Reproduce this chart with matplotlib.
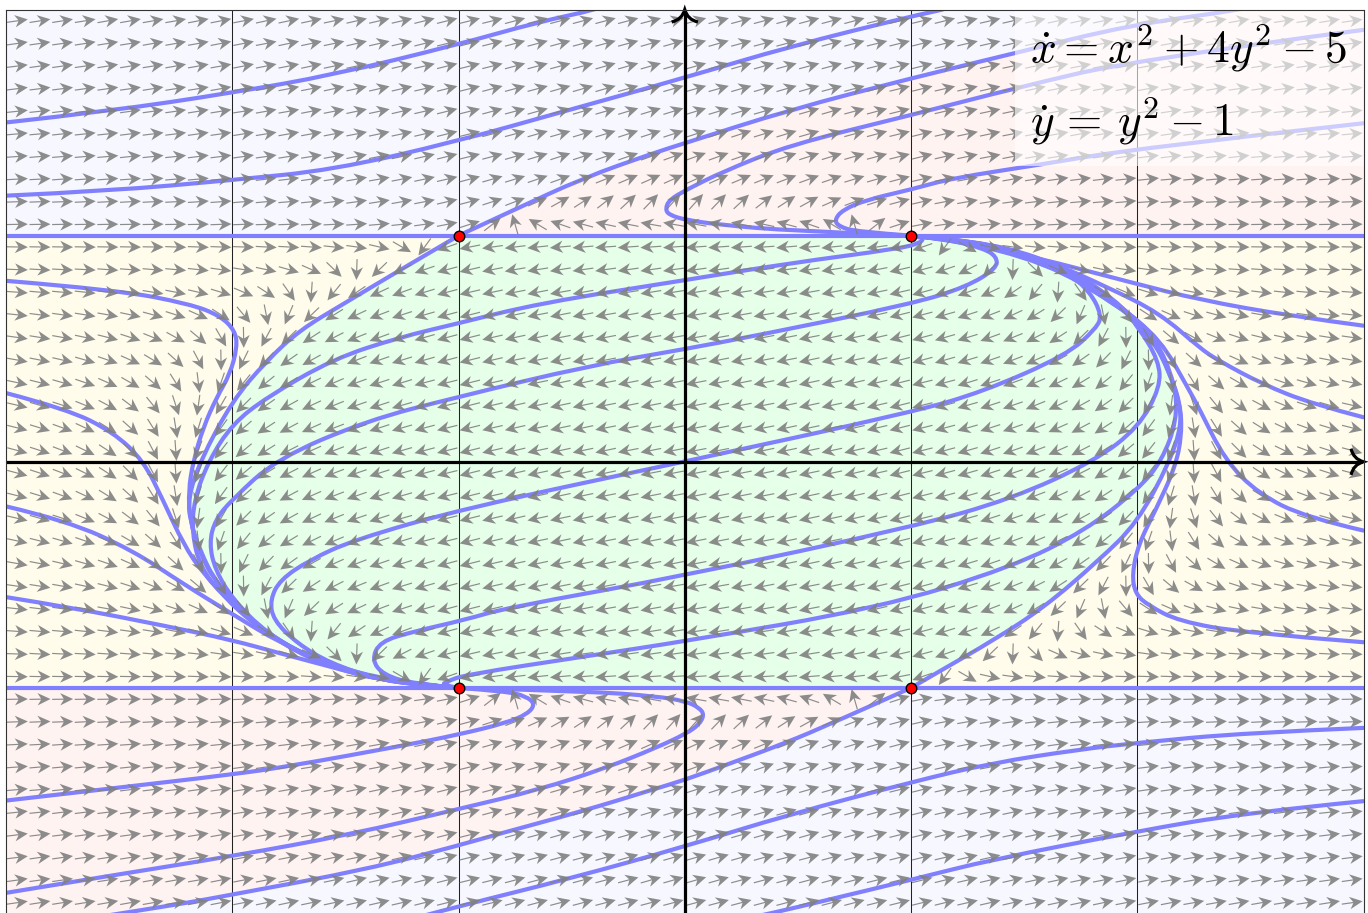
import numpy as np
import matplotlib
matplotlib.use("Agg")
import matplotlib.pyplot as plt
from matplotlib.patches import PathPatch, Rectangle
from matplotlib.path import Path

plt.rcParams['mathtext.fontset'] = 'cm'

# Arrow grid, one quadrant: direction in degrees read per cell.
# The picture repeats the same directions when mirrored in both axes.
arrow_x = [0.05, 0.15, 0.25, 0.35, 0.45, 0.55, 0.65, 0.75, 0.85, 0.95, 1.05, 1.15, 1.25, 1.35, 1.45,
           1.55, 1.65, 1.75, 1.85, 1.95, 2.05, 2.15, 2.25, 2.35, 2.45, 2.55, 2.65, 2.75, 2.85, 2.95]
arrow_y = [1.95, 1.85, 1.75, 1.65, 1.55, 1.45, 1.35, 1.25, 1.15, 1.05,
           0.95, 0.85, 0.75, 0.65, 0.55, 0.45, 0.35, 0.25, 0.15, 0.05]
arrow_angles = [
    [15, 15, 15, 15, 15, 15, 15, 15, 14, 14, 14, 14, 13, 13, 13, 12, 12, 12, 12, 11, 11, 11, 10, 10, 10, 10, 9, 9, 9, 8],
    [16, 16, 15, 15, 15, 15, 15, 15, 14, 14, 14, 14, 13, 13, 13, 12, 12, 12, 11, 11, 11, 10, 10, 10, 9, 9, 9, 8, 8, 8],
    [16, 16, 16, 16, 15, 15, 15, 15, 14, 14, 14, 13, 13, 13, 12, 12, 12, 11, 11, 11, 10, 10, 10, 9, 9, 9, 8, 8, 8, 7],
    [16, 16, 16, 16, 16, 16, 15, 15, 15, 14, 14, 13, 13, 13, 12, 12, 11, 11, 10, 10, 10, 9, 9, 9, 8, 8, 8, 7, 7, 7],
    [17, 17, 17, 16, 16, 16, 16, 15, 15, 14, 14, 13, 13, 12, 12, 11, 11, 10, 10, 9, 9, 9, 8, 8, 8, 7, 7, 7, 6, 6],
    [18, 18, 18, 17, 17, 16, 16, 15, 15, 14, 14, 13, 12, 12, 11, 11, 10, 10, 9, 9, 8, 8, 7, 7, 7, 6, 6, 6, 5, 5],
    [20, 20, 19, 19, 18, 18, 17, 16, 15, 14, 14, 13, 12, 11, 11, 10, 9, 9, 8, 8, 7, 7, 6, 6, 6, 5, 5, 5, 5, 4],
    [24, 24, 23, 22, 21, 20, 19, 17, 16, 15, 13, 12, 11, 10, 10, 9, 8, 7, 7, 6, 6, 5, 5, 5, 4, 4, 4, 4, 3, 3],
    [48, 46, 43, 38, 33, 29, 24, 21, 18, 15, 13, 11, 10, 9, 8, 7, 6, 5, 5, 5, 4, 4, 3, 3, 3, 3, 3, 2, 2, 2],
    [170, 170, 169, 168, 165, 161, 149, 106, 38, 18, 11, 8, 6, 5, 4, 3, 3, 2, 2, 2, 2, 1, 1, 1, 1, 1, 1, 1, 1, 1],
    [-176, -176, -176, -176, -175, -175, -174, -173, -172, -169, -161, -126, -30, -13, -8, -6, -4, -3, -3, -2, -2, -2, -2, -1, -1, -1, -1, -1, -1, -1],
    [-172, -172, -172, -172, -172, -171, -171, -170, -169, -167, -165, -161, -153, -136, -92, -44, -24, -16, -12, -9, -8, -6, -5, -5, -4, -4, -3, -3, -3, -2],
    [-171, -171, -171, -171, -170, -170, -169, -169, -168, -167, -165, -163, -160, -155, -146, -129, -94, -55, -33, -23, -17, -13, -11, -9, -8, -7, -6, -5, -5, -4],
    [-170, -170, -170, -170, -169, -169, -169, -168, -167, -166, -165, -164, -162, -159, -155, -148, -136, -113, -79, -50, -33, -24, -18, -15, -12, -10, -9, -8, -7, -6],
    [-170, -170, -169, -169, -169, -169, -168, -168, -167, -166, -165, -164, -163, -160, -158, -153, -147, -136, -118, -89, -60, -40, -29, -22, -18, -14, -12, -10, -9, -8],
    [-169, -169, -169, -169, -169, -168, -168, -168, -167, -166, -165, -164, -163, -161, -159, -156, -151, -145, -134, -116, -89, -62, -42, -31, -24, -19, -16, -13, -11, -10],
    [-169, -169, -169, -169, -168, -168, -168, -167, -167, -166, -166, -165, -163, -162, -160, -157, -154, -149, -141, -129, -109, -83, -58, -41, -30, -24, -19, -16, -14, -12],
    [-169, -169, -169, -169, -168, -168, -168, -167, -167, -166, -166, -165, -164, -162, -161, -158, -155, -151, -145, -135, -120, -98, -72, -51, -37, -28, -22, -18, -16, -13],
    [-169, -169, -169, -169, -168, -168, -168, -167, -167, -166, -166, -165, -164, -162, -161, -159, -156, -152, -147, -139, -126, -107, -81, -58, -42, -32, -25, -20, -17, -14],
    [-169, -169, -169, -168, -168, -168, -168, -167, -167, -166, -166, -165, -164, -162, -161, -159, -156, -153, -148, -140, -128, -110, -86, -62, -45, -33, -26, -21, -18, -15],
]

# Saddles / nodes
fixed_x = [-1, 1, -1, 1]
fixed_y = [1, 1, -1, -1]

# Separatrices
sep_upper = [(-1.0, 1.0), (-0.761, 1.111), (-0.451, 1.254), (-0.142, 1.364), (0.0, 1.409), (0.462, 1.556),
             (1.004, 1.697), (1.458, 1.807), (1.968, 1.932), (2.476, 2.001), (2.6, 2.03)]
sep_lower = [(1.0, -1.0), (0.654, -1.155), (0.447, -1.243), (0.168, -1.346), (0.005, -1.405), (-0.142, -1.45),
             (-0.451, -1.545), (-0.834, -1.649), (-0.997, -1.696), (-1.406, -1.803), (-2.0, -1.914),
             (-2.202, -1.951), (-2.46, -1.992), (-2.585, -2.012)]
sep_left = [(-1.0, 1.0), (-1.259, 0.848), (-1.509, 0.698), (-1.701, 0.583), (-1.848, 0.447), (-2.0, 0.27),
            (-2.143, 0.002), (-2.194, -0.157), (-2.187, -0.26), (-2.143, -0.393), (-2.069, -0.54),
            (-1.892, -0.729), (-1.671, -0.862), (-1.422, -0.95), (-1.126, -0.991), (-1.0, -1.0)]
sep_right = [(1.0, -1.0), (1.151, -0.912), (1.358, -0.793), (1.586, -0.646), (1.829, -0.437), (2.0, -0.27),
             (2.143, -0.002), (2.194, 0.157), (2.187, 0.26), (2.143, 0.393), (2.069, 0.54),
             (1.892, 0.729), (1.671, 0.862), (1.422, 0.95), (1.126, 0.991), (1.0, 1.0)]

# Top region
top_a = [(-2.997, 1.501), (-2.54, 1.551), (-2.0, 1.632), (-1.554, 1.711), (-1.011, 1.843), (-0.643, 1.946),
         (-0.385, 2.001), (-0.3, 2.03)]
top_b = [(-2.997, 1.177), (-2.54, 1.198), (-2.0, 1.246), (-1.554, 1.291), (-1.011, 1.416), (-0.54, 1.548),
         (0.005, 1.7), (0.462, 1.836), (1.004, 1.971), (1.15, 2.001), (1.25, 2.03)]
top_fold_a = [(1.0, 1.0), (0.462, 1.022), (0.168, 1.047), (0.005, 1.069), (-0.069, 1.092), (-0.086, 1.117),
              (-0.069, 1.158), (0.005, 1.202), (0.168, 1.283), (0.462, 1.401), (1.004, 1.534), (1.458, 1.652),
              (2.006, 1.78), (2.999, 1.91)]
top_fold_b = [(1.0, 1.0), (0.757, 1.018), (0.683, 1.04), (0.661, 1.069), (0.698, 1.114), (0.801, 1.158),
              (1.004, 1.205), (1.181, 1.254), (1.564, 1.313), (2.006, 1.387), (2.999, 1.497)]

# Bottom region
bottom_fold_a = [(-1.0, -1.0), (-0.79, -1.015), (-0.702, -1.037), (-0.661, -1.071), (-0.694, -1.115),
                 (-0.79, -1.155), (-0.997, -1.206), (-1.259, -1.258), (-1.745, -1.346), (-2.0, -1.383),
                 (-2.511, -1.442), (-2.997, -1.498)]
bottom_fold_b = [(-1.0, -1.0), (-0.422, -1.015), (-0.127, -1.037), (0.005, -1.059), (0.064, -1.088),
                 (0.086, -1.118), (0.064, -1.162), (0.005, -1.203), (-0.127, -1.265), (-0.348, -1.354),
                 (-0.643, -1.45), (-0.997, -1.535), (-1.48, -1.649), (-2.0, -1.744), (-2.511, -1.826),
                 (-2.997, -1.906)]
bottom_a = [(2.999, -1.177), (2.476, -1.199), (2.0, -1.243), (1.741, -1.273), (1.358, -1.332), (1.004, -1.416),
            (0.462, -1.56), (0.005, -1.7), (-0.495, -1.84), (-0.997, -1.965), (-1.17, -2.012)]
bottom_b = [(2.999, -1.501), (2.476, -1.553), (2.0, -1.634), (1.358, -1.759), (1.004, -1.848), (0.61, -1.943),
            (0.403, -1.992), (0.288, -2.017)]

# Yellow strip, left side
left_a = [(-2.997, 0.8), (-2.511, 0.76), (-2.187, 0.698), (-2.054, 0.646), (-1.988, 0.58), (-1.978, 0.507),
          (-2.01, 0.388), (-2.069, 0.285), (-2.128, 0.153), (-2.172, 0.005), (-2.194, -0.128), (-2.187, -0.26),
          (-2.143, -0.407), (-2.069, -0.54), (-1.892, -0.729), (-1.671, -0.862), (-1.422, -0.95),
          (-1.126, -0.991), (-1.0, -1.0)]
left_b = [(-2.997, 0.303), (-2.732, 0.234), (-2.526, 0.131), (-2.393, 0.005), (-2.305, -0.172), (-2.217, -0.363),
          (-2.128, -0.496), (-1.997, -0.633), (-1.848, -0.757), (-1.671, -0.867), (-1.422, -0.951),
          (-1.126, -0.991), (-1.0, -1.0)]
left_c = [(-2.997, -0.198), (-2.732, -0.26), (-2.438, -0.393), (-2.217, -0.54), (-1.996, -0.676), (-1.789, -0.801),
          (-1.568, -0.898), (-1.347, -0.957), (-1.126, -0.991), (-1.0, -1.0)]
left_d = [(-2.997, -0.599), (-2.703, -0.646), (-2.29, -0.727), (-2.003, -0.788), (-1.789, -0.847), (-1.568, -0.906),
          (-1.347, -0.965), (-1.126, -0.991), (-1.0, -1.0)]

# Yellow strip, right side
right_a = [(1.0, 1.0), (1.172, 0.988), (1.539, 0.907), (1.981, 0.791), (2.277, 0.716), (2.669, 0.646), (2.999, 0.602)]
right_b = [(1.0, 1.0), (1.172, 0.987), (1.614, 0.885), (1.865, 0.774), (2.1, 0.657), (2.277, 0.502), (2.36, 0.447),
           (2.552, 0.344), (2.772, 0.256), (2.999, 0.197)]
right_c = [(1.0, 1.0), (1.172, 0.987), (1.614, 0.888), (1.688, 0.826), (1.909, 0.694), (2.1, 0.546), (2.233, 0.31),
           (2.271, 0.241), (2.389, 0.005), (2.537, -0.142), (2.743, -0.245), (2.999, -0.304)]
right_d = [(1.0, 1.0), (1.172, 0.987), (1.6, 0.88), (1.9, 0.7), (2.06, 0.58), (2.14, 0.4), (2.19, 0.26), (2.197, 0.12),
           (2.168, -0.024), (2.08, -0.216), (2.006, -0.363), (1.977, -0.496), (1.991, -0.584), (2.05, -0.636),
           (2.183, -0.705), (2.476, -0.757), (2.999, -0.798)]

# Green eye, running from the lower left node to the upper right one
eye_a = [(-1.0, -1.0), (-1.126, -0.991), (-1.422, -0.95), (-1.671, -0.862), (-1.892, -0.729), (-2.04, -0.596),
         (-2.143, -0.464), (-2.178, -0.315), (-2.169, -0.169), (-2.106, 0.002), (-2.0, 0.167), (-1.848, 0.285),
         (-1.554, 0.455), (-1.259, 0.551), (-1.011, 0.61), (-0.643, 0.701), (0.005, 0.804), (0.462, 0.878),
         (0.951, 0.943), (1.04, 0.968), (1.057, 0.99), (1.018, 0.996), (1.0, 1.0)]
eye_b = [(-1.0, -1.0), (-1.126, -0.991), (-1.347, -0.964), (-1.642, -0.876), (-1.848, -0.758), (-1.996, -0.611),
         (-2.076, -0.478), (-2.102, -0.36), (-2.076, -0.257), (-2.003, -0.169), (-1.804, 0.013), (-1.406, 0.182),
         (-1.011, 0.285), (-0.422, 0.425), (0.005, 0.499), (0.315, 0.558), (1.004, 0.698), (1.246, 0.774),
         (1.379, 0.856), (1.379, 0.907), (1.319, 0.944), (1.172, 0.981), (1.0, 1.0)]
eye_c = [(-1.0, -1.0), (-1.126, -0.991), (-1.347, -0.964), (-1.568, -0.891), (-1.715, -0.802), (-1.819, -0.699),
         (-1.833, -0.611), (-1.789, -0.522), (-1.657, -0.434), (-1.465, -0.346), (-0.971, -0.205), (0.005, 0.002),
         (1.004, 0.219), (1.319, 0.31), (1.688, 0.472), (1.82, 0.591), (1.843, 0.649), (1.791, 0.752),
         (1.688, 0.841), (1.467, 0.922), (1.216, 0.981), (1.0, 1.0)]
eye_d = [(-1.0, -1.0), (-1.2, -0.982), (-1.333, -0.942), (-1.384, -0.876), (-1.347, -0.795), (-1.2, -0.751),
         (-0.971, -0.699), (-0.79, -0.646), (0.005, -0.503), (1.004, -0.289), (1.446, -0.164), (1.814, 0.005),
         (2.006, 0.153), (2.102, 0.33), (2.095, 0.447), (2.006, 0.595), (1.918, 0.698), (1.66, 0.86),
         (1.41, 0.95), (1.13, 0.99), (1.0, 1.0)]
eye_e = [(-1.0, -1.0), (-1.074, -0.987), (-1.052, -0.972), (-0.971, -0.942), (-0.423, -0.858), (0.005, -0.793),
         (0.86, -0.646), (1.446, -0.466), (1.77, -0.304), (2.006, -0.12), (2.109, 0.005), (2.175, 0.182),
         (2.168, 0.344), (2.08, 0.551), (1.918, 0.698), (1.66, 0.86), (1.41, 0.95), (1.13, 0.99), (1.0, 1.0)]

trajectories = [sep_upper, sep_lower, sep_left, sep_right, top_a, top_b, top_fold_a, top_fold_b,
                bottom_fold_a, bottom_fold_b, bottom_a, bottom_b, left_a, left_b, left_c, left_d,
                right_a, right_b, right_c, right_d, eye_a, eye_b, eye_c, eye_d, eye_e]

BLUE = '#f6f7ff'
YELLOW = '#fffcec'
GREEN = '#e6ffe9'
PINK = '#fff3f1'
LINE = '#8080ff'


def smooth(points):
    # quadratic spline that uses the read points as control points
    pts = np.asarray(points, dtype=float)
    verts = [pts[0]]
    codes = [Path.MOVETO]
    for i in range(1, len(pts) - 1):
        end = pts[i + 1] if i == len(pts) - 2 else (pts[i] + pts[i + 1]) / 2
        verts += [pts[i], end]
        codes += [Path.CURVE3, Path.CURVE3]
    return verts, codes


def region(*parts):
    # curves are given as lists, corners as single tuples
    verts, codes = [], []
    for part in parts:
        if isinstance(part, list):
            v, c = smooth(part)
            if verts:
                c = [Path.LINETO] + c[1:]
            verts += v
            codes += c
        else:
            verts.append(part)
            codes.append(Path.LINETO)
    verts.append(verts[0])
    codes.append(Path.CLOSEPOLY)
    return Path(verts, codes)


fig = plt.figure(figsize=(13.68, 9.13), dpi=100)
ax = fig.add_axes([6.05 / 1368, -1 / 913, 1357.45 / 1368, 904.45 / 913])
ax.set_xlim(-3, 3)
ax.set_ylim(-2, 2)
ax.set_xticks([])
ax.set_yticks([])
for s in ax.spines.values():
    s.set_linewidth(0.8)
    s.set_color('#333333')
    s.set_zorder(20)

# Region backgrounds
ax.add_patch(Rectangle((-3, 1), 6, 1, fc=BLUE, ec='none', zorder=0))
ax.add_patch(Rectangle((-3, -1), 6, 2, fc=YELLOW, ec='none', zorder=0))
ax.add_patch(Rectangle((-3, -2), 6, 1, fc=PINK, ec='none', zorder=0))
ax.add_patch(PathPatch(region(sep_upper, (3, 2.03), (3, 1)), fc=PINK, ec='none', zorder=0.5))
ax.add_patch(PathPatch(region(sep_lower, (-2.6, -2.02), (3, -2.02), (3, -1)), fc=BLUE, ec='none', zorder=0.5))
ax.add_patch(PathPatch(region(sep_left, sep_right), fc=GREEN, ec='none', zorder=0.5))

# Grid
for grid_x in [-2, -1, 1, 2]:
    ax.axvline(grid_x, color='#222222', lw=0.75, zorder=1)

# Trajectories
ax.axhline(1, color=LINE, lw=3.0, zorder=2)
ax.axhline(-1, color=LINE, lw=3.0, zorder=2)
for traj in trajectories:
    v, c = smooth(traj)
    ax.add_patch(PathPatch(Path(v, c), fc='none', ec=LINE, lw=3.0, zorder=2, capstyle='round'))

# Direction field, quadrant mirrored in both axes
angles = np.radians(np.array(arrow_angles, dtype=float))
angles = np.hstack([angles[:, ::-1], angles])
angles = np.vstack([angles, angles[::-1, :]])
qx = np.array(arrow_x)
qy = np.array(arrow_y)
gx, gy = np.meshgrid(np.r_[-qx[::-1], qx], np.r_[qy, -qy[::-1]])
ax.quiver(gx, gy, np.cos(angles), np.sin(angles), angles='xy', scale_units='xy', scale=1 / 0.0928,
          units='xy', width=0.0052, headwidth=10.5, headlength=11, headaxislength=8, pivot='mid',
          color='#808080', alpha=0.9, linewidth=0, zorder=3)

# Axes
ax.plot([-3, 2.995], [0, 0], color='black', lw=2.3, solid_capstyle='butt', zorder=4, clip_on=False)
ax.plot([0, 0], [-2.1, 1.995], color='black', lw=2.3, solid_capstyle='butt', zorder=4, clip_on=False)
tip_y = Path([(-0.058, 1.945), (-0.012, 1.955), (0, 2.0), (0.012, 1.955), (0.058, 1.945)],
             [Path.MOVETO, Path.CURVE3, Path.CURVE3, Path.CURVE3, Path.CURVE3])
tip_x = Path([(2.945, 0.058), (2.955, 0.012), (3.0, 0), (2.955, -0.012), (2.945, -0.058)],
             [Path.MOVETO, Path.CURVE3, Path.CURVE3, Path.CURVE3, Path.CURVE3])
for tip in [tip_x, tip_y]:
    ax.add_patch(PathPatch(tip, fc='none', ec='black', lw=2.3, zorder=4, clip_on=False))

# Fixed points
ax.plot(fixed_x, fixed_y, 'o', ms=7.6, mfc='#ff0000', mec='black', mew=1.0, zorder=5)

# Equation box
ax.add_patch(Rectangle((1.458, 1.31), 1.542, 0.69, fc='white', ec='none', alpha=0.6, zorder=6))
ax.text(1.526, 1.768, r'$\dot{x} = x^2 + 4y^2 - 5$', fontsize=32.8, color='black', va='baseline', zorder=7)
ax.text(1.526, 1.445, r'$\dot{y}\,=\,y^2 - 1$', fontsize=32.8, color='black', va='baseline', zorder=7)

plt.savefig('out.png', dpi=100)
